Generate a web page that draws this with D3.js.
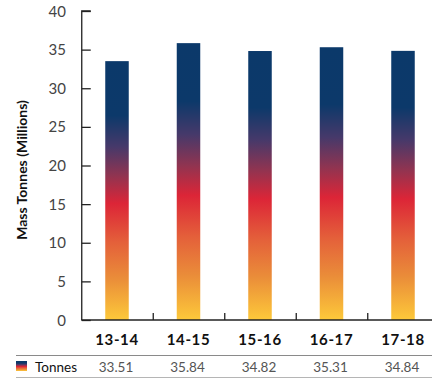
<!DOCTYPE html>
<html>
<head>
<meta charset="utf-8">
<script src="https://cdn.jsdelivr.net/npm/d3@7"></script>
<style>
  html, body { margin: 0; padding: 0; background: #fff; }
  svg { display: block; font-family: Lato, "Open Sans", sans-serif; }
</style>
</head>
<body>
<svg id="chart" width="432" height="379"></svg>
<script>
// Annual mass in millions of tonnes
const categories = ["13-14", "14-15", "15-16", "16-17", "17-18"];
const tonnes = [33.51, 35.84, 34.82, 35.31, 34.84];
const yTicks = [0, 5, 10, 15, 20, 25, 30, 35, 40];
const seriesName = "Tonnes";

const svg = d3.select("#chart");
const W = 432, H = 379;

const x = d3.scaleBand().domain(categories).range([81.25, 81.25 + 71.5 * 5]).paddingInner(0).paddingOuter(0);
const y = d3.scaleLinear().domain([0, 40]).range([320, 11]);
const barW = 23.5;

// Vertical gradient shared by bars and legend swatch
const defs = svg.append("defs");
const grad = defs.append("linearGradient")
  .attr("id", "barGrad").attr("x1", 0).attr("y1", 0).attr("x2", 0).attr("y2", 1);
[
  [0, "#0b396a"], [0.21, "#0c396a"], [0.33, "#46396a"],
  [0.44, "#8f3451"], [0.55, "#dc2537"], [0.70, "#e4603a"],
  [0.84, "#ea8d39"], [1, "#fdc93a"]
].forEach(([o, c]) => grad.append("stop").attr("offset", o).attr("stop-color", c));

// Bars
svg.append("g").selectAll("rect")
  .data(tonnes)
  .join("rect")
  .attr("x", (d, i) => x(categories[i]) + x.bandwidth() / 2 - barW / 2)
  .attr("y", d => y(d))
  .attr("width", barW)
  .attr("height", d => y(0) - y(d))
  .attr("fill", "url(#barGrad)");

// Y axis with inward ticks
const yAxis = d3.axisRight(y).tickValues(yTicks).tickSize(9).tickFormat("");
const gy = svg.append("g").attr("transform", `translate(${x.range()[0] + 0.5},0)`).call(yAxis);
gy.select(".domain").attr("stroke", "#222").attr("stroke-width", 1.3).attr("d", `M9,${y(40)}H0V${y(0)}`);
gy.selectAll(".tick line").attr("stroke", "#222").attr("stroke-width", 1.3);

svg.append("g").selectAll("text")
  .data(yTicks)
  .join("text")
  .attr("x", 66)
  .attr("y", d => y(d) + 5.5)
  .attr("text-anchor", "end")
  .attr("font-size", 15)
  .attr("fill", "#444")
  .text(d => d);

// X axis baseline with separators between categories
const xAxisY = y(0);
svg.append("line")
  .attr("x1", x.range()[0]).attr("x2", W)
  .attr("y1", xAxisY).attr("y2", xAxisY)
  .attr("stroke", "#222").attr("stroke-width", 1.5);
svg.append("g").selectAll("line")
  .data(categories.slice(1))
  .join("line")
  .attr("x1", d => x(d) + 0.5).attr("x2", d => x(d) + 0.5)
  .attr("y1", xAxisY).attr("y2", xAxisY - 7)
  .attr("stroke", "#222").attr("stroke-width", 1.3);

// Category labels
svg.append("g").selectAll("text")
  .data(categories)
  .join("text")
  .attr("x", d => x(d) + x.bandwidth() / 2)
  .attr("y", 345)
  .attr("text-anchor", "middle")
  .attr("font-size", 15)
  .attr("font-weight", "bold")
  .attr("letter-spacing", 0.6)
  .attr("fill", "#111")
  .text(d => d);

// Y axis title
svg.append("text")
  .attr("transform", "translate(27,170) rotate(-90)")
  .attr("text-anchor", "middle")
  .attr("font-size", 14)
  .attr("font-weight", "bold")
  .attr("fill", "#111")
  .text("Mass Tonnes (Millions)");

// Data table below the axis
svg.append("line").attr("x1", 16).attr("x2", W).attr("y1", 355.5).attr("y2", 355.5)
  .attr("stroke", "#8a8a8a").attr("stroke-width", 1.2);
svg.append("line").attr("x1", 16).attr("x2", W).attr("y1", 377.5).attr("y2", 377.5)
  .attr("stroke", "#b5b5b5").attr("stroke-width", 1.2);

svg.append("rect").attr("x", 16).attr("y", 361).attr("width", 11).attr("height", 10)
  .attr("fill", "url(#barGrad)");
svg.append("text").attr("x", 35).attr("y", 371.5)
  .attr("font-size", 13.5).attr("fill", "#111").text(seriesName);

svg.append("g").selectAll("text")
  .data(tonnes)
  .join("text")
  .attr("x", (d, i) => x(categories[i]) + x.bandwidth() / 2 - 1)
  .attr("y", 371.5)
  .attr("text-anchor", "middle")
  .attr("font-size", 13.5)
  .attr("fill", "#555")
  .text(d => d.toFixed(2));
</script>
</body>
</html>
